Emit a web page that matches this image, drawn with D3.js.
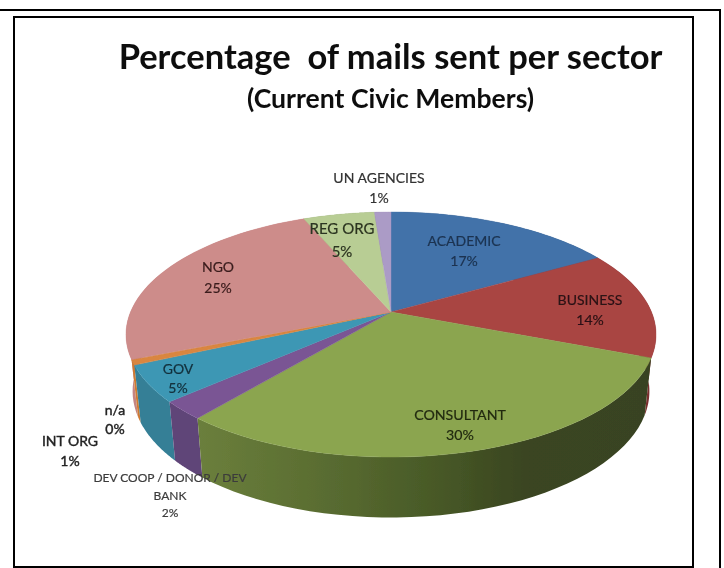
<!DOCTYPE html>
<html><head><meta charset="utf-8">
<script src="https://cdn.jsdelivr.net/npm/d3@7/dist/d3.min.js"></script>
<style>html,body{margin:0;padding:0;background:#fff}svg{display:block}</style>
</head><body><svg id="c" width="724" height="568"></svg>
<script>
const categories = ["ACADEMIC","BUSINESS","CONSULTANT","DEV COOP / DONOR / DEV BANK","GOV","INT ORG","n/a","NGO","REG ORG","UN AGENCIES"];
const values = [16.7,14.2,30.1,2.4,4.8,0.65,0.05,24.7,5.2,1.2];
const percentLabels = ["17%","14%","30%","2%","5%","1%","0%","25%","5%","1%"];
const topColors = ["#4272a9","#a94543","#8ba550","#7a5594","#3e97b4","#d9863f","#d9863f","#cd8c8a","#b8cd94","#ab9bc6"];
const wallColors = ["#2c4e78","#7a2f2e","#5d7035","#5f4478","#347f96","#cf7a30","#cf7a30","#c48583","#88996c","#7e7293"];
const titleText = "Percentage  of mails sent per sector";
const subtitleText = "(Current Civic Members)";

// label layout: centre x, then the y of each text line
const labelLayout = [
 {x:464,lines:["ACADEMIC"],ys:[246],py:266,fill:"#1c3350",size:14},
 {x:590,lines:["BUSINESS"],ys:[305],py:325,fill:"#2a1214",size:14},
 {x:460,lines:["CONSULTANT"],ys:[420],py:440,fill:"#222a10",size:14.2},
 {x:170,lines:["DEV COOP / DONOR / DEV","BANK"],ys:[482,500],py:517,fill:"#3c3c3c",size:12},
 {x:178,lines:["GOV"],ys:[374],py:393,fill:"#12303c",size:14},
 {x:70,lines:["INT ORG"],ys:[446],py:466,fill:"#222",size:14,bold:0.4},
 {x:115,lines:["n/a"],ys:[415],py:434,fill:"#222",size:14,bold:0.4},
 {x:218,lines:["NGO"],ys:[272],py:293,fill:"#3a1c1c",size:14},
 {x:342,lines:["REG ORG"],ys:[234],py:257,fill:"#2c3420",size:15},
 {x:379,lines:["UN AGENCIES"],ys:[183],py:203,fill:"#333",size:14},
];

const svg = d3.select("#c");
const defs = svg.append("defs");
defs.append("filter").attr("id","soft").attr("x","-5%").attr("y","-5%").attr("width","110%").attr("height","110%")
  .append("feGaussianBlur").attr("stdDeviation",0.5);
const g = defs.append("linearGradient").attr("id","greenWall").attr("gradientUnits","userSpaceOnUse")
  .attr("x1",198).attr("x2",650).attr("y1",0).attr("y2",0);
[[0,"#6b7f3c"],[0.3,"#586b30"],[0.55,"#465726"],[0.72,"#3a4520"],[1,"#394320"]].forEach(s=>g.append("stop").attr("offset",s[0]).attr("stop-color",s[1]));

const root = svg.append("g").attr("filter","url(#soft)");

// perspective projection of the tilted disc: top face and bottom face
const topFace = {cx:391,cy:312,A:260.5,B:118.4,e:0.184};
const botFace = {cx:391,cy:368,A:254,B:122,e:0.184};
function project(f,a){
  const u=Math.sin(a),v=Math.cos(a),w=1+f.e*v;
  return [f.cx+f.A*u/w, f.cy-f.B*v/w];
}
const pieGen = d3.pie().sort(null).value(d=>d);
const arcs = pieGen(values);
const samples = (a0,a1)=>d3.range(0,41).map(i=>a0+(a1-a0)*i/40);
const line = d3.line();

// walls, back to front
const order = arcs.map((d,i)=>i).sort((p,q)=>{
  const mid=i=>(arcs[i].startAngle+arcs[i].endAngle)/2;
  return Math.cos(mid(q))-Math.cos(mid(p));
});
root.append("g").selectAll("path").data(order).join("path")
  .attr("d",i=>{
    const ang=samples(arcs[i].startAngle,arcs[i].endAngle);
    return line(ang.map(a=>project(topFace,a)).concat(ang.slice().reverse().map(a=>project(botFace,a))))+"Z";
  })
  .attr("fill",i=>categories[i]==="CONSULTANT"?"url(#greenWall)":wallColors[i]);

// top face
root.append("g").selectAll("path").data(arcs).join("path")
  .attr("d",d=>line([[topFace.cx,topFace.cy]].concat(samples(d.startAngle,d.endAngle).map(a=>project(topFace,a))))+"Z")
  .attr("fill",(d,i)=>topColors[i])
  .attr("stroke",(d,i)=>topColors[i]).attr("stroke-width",0.4).attr("stroke-linejoin","round");

// labels
const lab = root.append("g").attr("font-family","Lato, sans-serif").attr("text-anchor","middle");
labelLayout.forEach((l,i)=>{
  const add=(t,y)=>lab.append("text").attr("x",l.x).attr("y",y).attr("font-size",l.size).attr("fill",l.fill)
     .attr("stroke",l.fill).attr("stroke-width",l.bold||0.2).text(t);
  l.lines.forEach((t,k)=>add(t,l.ys[k]));
  add(percentLabels[i],l.py);
});

// titles
root.append("text").attr("x",390.5).attr("y",69).attr("text-anchor","middle").attr("font-family","Lato, sans-serif")
  .attr("font-weight",700).attr("font-size",34.5).attr("fill","#111").attr("xml:space","preserve").style("white-space","pre").text(titleText);
root.append("text").attr("x",390.5).attr("y",108).attr("text-anchor","middle").attr("font-family","Lato, sans-serif")
  .attr("font-weight",700).attr("font-size",26.6).attr("fill","#111").text(subtitleText);

// frames
const fr = svg.append("g").attr("fill","none").attr("stroke","#000").attr("stroke-width",2);
fr.append("path").attr("d","M0,10H720V568");
fr.append("rect").attr("x",14).attr("y",17).attr("width",679).attr("height",550);
</script></body></html>
